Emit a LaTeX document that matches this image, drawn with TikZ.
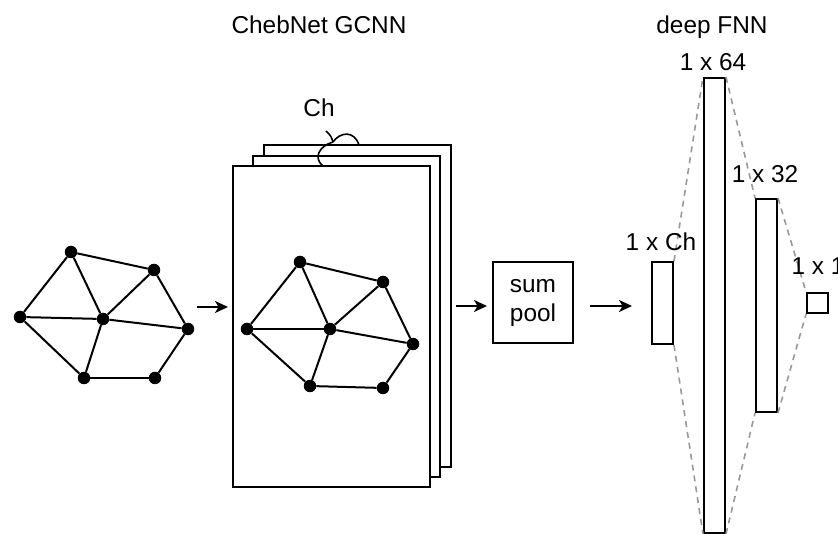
\documentclass[tikz,border=0pt]{standalone}
\usepackage{fontspec}
\setmainfont{Liberation Sans}
\usetikzlibrary{arrows.meta}
\begin{document}
\begin{tikzpicture}[x=1pt,y=-1pt,
 every node/.style={font=\fontsize{24.4}{29}\selectfont},
 dot/.style={circle,fill=black,inner sep=0pt,minimum size=12.5pt},
 edge/.style={line width=2pt},
 page/.style={draw,line width=2pt,fill=white,inner sep=0pt},
 fc/.style={draw,line width=2pt,fill=white,inner sep=0pt,minimum width=21pt},
 conn/.style={draw=black!40,line width=1.6pt,dash pattern=on 6pt off 5pt},
 arr/.style={line width=2pt,-{Stealth[length=13pt,width=12pt,inset=3.5pt]}},
 lbl/.style={anchor=base,inner sep=0pt}]
\useasboundingbox (0,0) rectangle (838,534);

% titles
\node[lbl] (t1) at (319,34) {ChebNet GCNN};
\node[lbl] (t2) at (712,34) {deep FNN};

% left graph
\node[dot] (a1) at (71,252) {};
\node[dot] (b1) at (154,270) {};
\node[dot] (c1) at (20,317) {};
\node[dot] (d1) at (103,319) {};
\node[dot] (e1) at (188,329) {};
\node[dot] (f1) at (84,378) {};
\node[dot] (g1) at (155,378) {};
\foreach \u/\v in {a1/b1,a1/c1,a1/d1,b1/d1,b1/e1,c1/d1,c1/f1,d1/e1,d1/f1,f1/g1,g1/e1}
  \draw[edge] (\u) -- (\v);

% stacked pages
\node[page,minimum width=187pt,minimum height=322pt] (back) at (357.5,306) {};
\node[page,minimum width=187pt,minimum height=321pt] (mid) at (346.5,316.5) {};
\node[page,minimum width=197pt,minimum height=321pt] (front) at (331.5,326.5) {};

% brace and Ch label
\coordinate (bj) at (333,142);
\draw[line width=1.6pt] (bj) .. controls (319,146) and (313,158) .. (323,166);
\draw[line width=1.6pt] (bj) .. controls (340,132) and (354,130) .. (359,145);
\draw[line width=1.6pt] (bj) .. controls (331,136) .. (326,131);
\node[lbl] (ch) at (319,117) {Ch};

% inner graph
\node[dot] (a2) at (300,262) {};
\node[dot] (b2) at (383,282) {};
\node[dot] (c2) at (247,329) {};
\node[dot] (d2) at (330,329) {};
\node[dot] (e2) at (413,344) {};
\node[dot] (f2) at (310,386) {};
\node[dot] (g2) at (383,388) {};
\foreach \u/\v in {a2/b2,a2/c2,a2/d2,b2/d2,b2/e2,c2/d2,c2/f2,d2/e2,d2/f2,f2/g2,g2/e2}
  \draw[edge] (\u) -- (\v);

% sum pool
\node[draw,line width=2pt,minimum width=80pt,minimum height=81pt,align=center,inner sep=0pt] (pool) at (533,302.5) {sum\\pool};

% FNN
\node[fc,minimum height=82pt] (fc0) at (662.5,303) {};
\node[fc,minimum height=455pt] (fc1) at (714.5,305.5) {};
\node[fc,minimum height=213pt] (fc2) at (766.5,305.5) {};
\node[fc,minimum height=20pt] (fc3) at (817.5,303) {};

\draw[conn] (fc0.north east) -- (fc1.north west);
\draw[conn] (fc1.north east) -- (fc2.north west);
\draw[conn] (fc2.north east) -- (fc3.north west);
\draw[conn] (fc0.south east) -- (fc1.south west);
\draw[conn] (fc1.south east) -- (fc2.south west);
\draw[conn] (fc2.south east) -- (fc3.south west);

\node[lbl] (l0) at (661,251) {1 x Ch};
\node[lbl] (l1) at (713,71) {1 x 64};
\node[lbl] (l2) at (765,183) {1 x 32};
\node[lbl] (l3) at (818,275) {1 x 1};

% arrows
\coordinate (s1) at (197,307);
\coordinate (e1a) at (228,307);
\coordinate (s2) at (456,306);
\coordinate (e2a) at (487,306);
\coordinate (s3) at (590,306);
\coordinate (e3a) at (632,306);
\draw[arr] (s1) -- (e1a);
\draw[arr] (s2) -- (e2a);
\draw[arr] (s3) -- (e3a);
\end{tikzpicture}
\end{document}
